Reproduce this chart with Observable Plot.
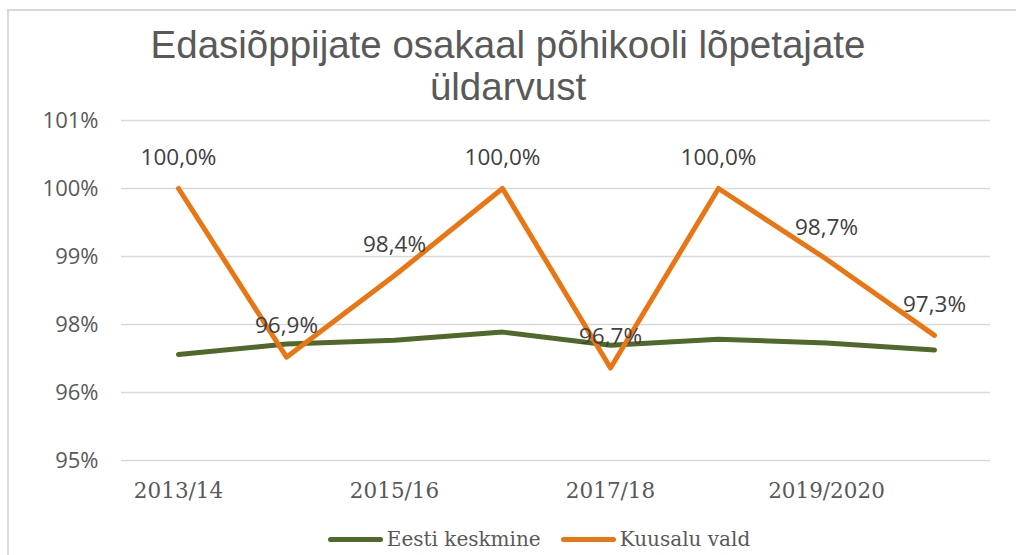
<!DOCTYPE html>
<html>
<head>
<meta charset="utf-8">
<script src="https://cdn.jsdelivr.net/npm/d3@7"></script>
<script src="https://cdn.jsdelivr.net/npm/@observablehq/plot@0.6"></script>
<style>
  html, body { margin: 0; padding: 0; background: #fff; }
  #wrap { position: relative; width: 1016px; height: 555px; overflow: hidden; }
  #frame { position: absolute; left: 7px; top: 9px; width: 1020px; height: 560px; border: 2px solid #d9d9d9; box-sizing: border-box; }
  #title { position: absolute; left: 0; top: 24px; width: 1016px; text-align: center; font-family: "Liberation Sans", Arial, sans-serif; font-size: 38.5px; line-height: 42px; color: #595959; padding-left: 0px; box-sizing: border-box; }
  #chart { position: absolute; left: 0; top: 0; }
  #legend { position: absolute; left: 0; top: 527px; width: 1016px; display: flex; justify-content: center; align-items: center; font-family: "DejaVu Serif", serif; font-size: 20px; color: #595959; padding-left: 62px; box-sizing: border-box; }
  .item { display: flex; align-items: center; margin: 0 10px; }
  .sw { width: 55px; height: 5px; border-radius: 3px; margin-right: 4px; }
</style>
</head>
<body>
<div id="wrap">
  <div id="frame"></div>
  <div id="chart"></div>
  <div id="title">Edasiõppijate osakaal põhikooli lõpetajate<br>üldarvust</div>
  <div id="legend"></div>
</div>
<script>
const years = ["2013/14", "2014/15", "2015/16", "2016/17", "2017/18", "2018/19", "2019/2020", "2020/21"];
const eestiKeskmine = [96.95, 97.14, 97.21, 97.36, 97.12, 97.23, 97.16, 97.03];
const kuusaluVald = [100.0, 96.9, 98.4, 100.0, 96.7, 100.0, 98.7, 97.3];
const yTicks = [95, 96.25, 97.5, 98.75, 100, 101.25];
const xTickLabels = ["2013/14", "2015/16", "2017/18", "2019/2020"];
const seriesNames = ["Eesti keskmine", "Kuusalu vald"];
const seriesColors = ["#50692a", "#ea7613"];

const rows = [];
years.forEach((y, i) => {
  rows.push({year: y, value: eestiKeskmine[i], series: seriesNames[0]});
  rows.push({year: y, value: kuusaluVald[i], series: seriesNames[1]});
});
const orange = rows.filter(d => d.series === seriesNames[1]);
const fmtLabel = v => v.toFixed(1).replace(".", ",") + "%";

const chart = Plot.plot({
  width: 1016,
  height: 555,
  marginLeft: 121,
  marginRight: 26,
  marginTop: 120,
  marginBottom: 95,
  x: {type: "point", domain: years, padding: 0.5},
  y: {domain: [95, 101.25]},
  color: {domain: seriesNames, range: seriesColors},
  marks: [
    Plot.ruleY(yTicks, {stroke: "#d9d9d9", strokeWidth: 1.5}),
    Plot.axisY({ticks: yTicks, tickSize: 0, tickPadding: 23, tickFormat: d => Math.round(d) + "%",
      fontSize: 22, fontFamily: "'Open Sans', sans-serif", fill: "#595959", label: null}),
    Plot.axisX({ticks: xTickLabels, tickSize: 0, tickPadding: 22, fontSize: 21.5,
      fontFamily: "'DejaVu Serif', serif", fill: "#595959", label: null}),
    Plot.line(rows, {x: "year", y: "value", z: "series", stroke: "series", strokeWidth: 5, strokeLinejoin: "round", strokeLinecap: "round"}),
    Plot.text(orange, {x: "year", y: "value", text: d => fmtLabel(d.value), dy: -31,
      fontSize: 22.5, fontFamily: "'Open Sans', sans-serif", fill: "#404040"})
  ]
});
document.getElementById("chart").appendChild(chart);

const legend = document.getElementById("legend");
seriesNames.forEach((n, i) => {
  const it = document.createElement("div");
  it.className = "item";
  it.innerHTML = `<div class="sw" style="background:${seriesColors[i]}"></div><span>${n}</span>`;
  legend.appendChild(it);
});
</script>
</body>
</html>
